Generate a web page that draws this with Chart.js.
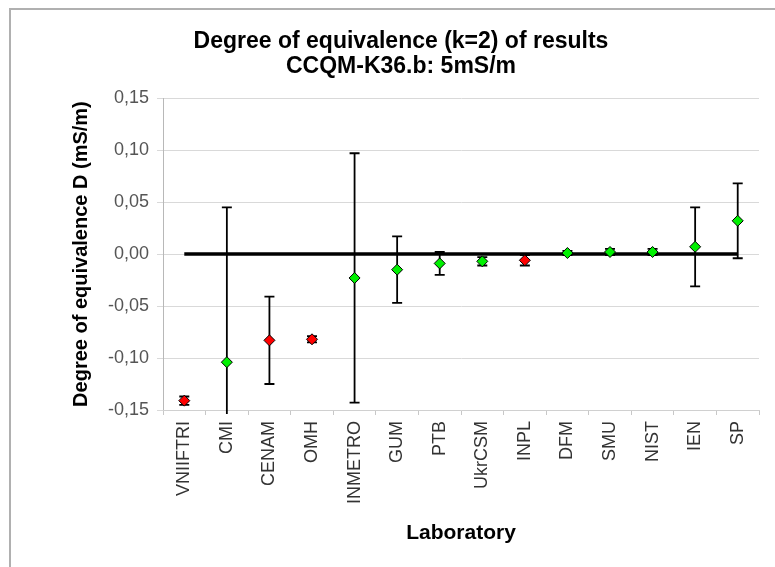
<!DOCTYPE html>
<html>
<head>
<meta charset="utf-8">
<script src="https://cdn.jsdelivr.net/npm/chart.js@4"></script>
<style>
  html, body { margin: 0; padding: 0; background: #fff; }
  #wrap { width: 775px; height: 567px; position: relative; }
</style>
</head>
<body>
<div id="wrap"><canvas id="myChart"></canvas></div>
<script>
const labs = ['VNIIFTRI', 'CMI', 'CENAM', 'OMH', 'INMETRO', 'GUM', 'PTB', 'UkrCSM', 'INPL', 'DFM', 'SMU', 'NIST', 'IEN', 'SP'];
const degEq = [-0.141, -0.104, -0.083, -0.082, -0.023, -0.015, -0.009, -0.007, -0.006, 0.001, 0.002, 0.002, 0.007, 0.032];
const expU = [0.004, 0.149, 0.042, 0.003, 0.120, 0.032, 0.011, 0.004, 0.005, 0.002, 0.003, 0.003, 0.038, 0.036];
// 1 = consistent (green), 0 = not consistent (red)
const consistent = [0, 1, 0, 0, 1, 1, 1, 1, 0, 1, 1, 1, 1, 1];
const yTicks = [-0.15, -0.10, -0.05, 0.00, 0.05, 0.10, 0.15];

const fmt = v => v.toFixed(2).replace('.', ',');

// error bars, drawn under the points
const errorBars = {
  id: 'errorBars',
  beforeDatasetsDraw(chart) {
    const ctx = chart.ctx;
    const y = chart.scales.y;
    const area = chart.chartArea;
    const meta = chart.getDatasetMeta(0);
    ctx.save();
    ctx.beginPath();
    ctx.rect(area.left, area.top - 4, area.right - area.left, area.bottom - area.top + 8);
    ctx.clip();
    ctx.strokeStyle = '#000';
    ctx.lineWidth = 1.8;
    meta.data.forEach((pt, i) => {
      const x = pt.x;
      const yTop = y.getPixelForValue(degEq[i] + expU[i]);
      const yBot = y.getPixelForValue(degEq[i] - expU[i]);
      ctx.beginPath();
      ctx.moveTo(x, yTop); ctx.lineTo(x, yBot);
      ctx.moveTo(x - 5, yTop); ctx.lineTo(x + 5, yTop);
      ctx.moveTo(x - 5, yBot); ctx.lineTo(x + 5, yBot);
      ctx.stroke();
    });
    ctx.restore();
  }
};

// grey frame of the original picture
const frame = {
  id: 'frame',
  beforeDraw(chart) {
    const ctx = chart.ctx;
    ctx.save();
    ctx.strokeStyle = '#b0b0b0';
    ctx.lineWidth = 2;
    ctx.strokeRect(10, 9, 820, 600);
    ctx.restore();
  }
};

const data = {
  labels: labs,
  datasets: [
    {
      label: 'D',
      data: degEq,
      showLine: false,
      pointStyle: 'rectRot',
      pointRadius: 5.5,
      pointBorderWidth: 1,
      pointBorderColor: '#000',
      pointBackgroundColor: consistent.map(c => c ? '#00f000' : '#ff0000'),
      order: 0
    },
    {
      label: 'zero',
      data: labs.map(() => 0),
      borderColor: '#000',
      borderWidth: 3.5,
      pointRadius: 0,
      order: 1
    }
  ]
};

const config = {
  type: 'line',
  data,
  options: {
    responsive: true,
    maintainAspectRatio: false,
    animation: false,
    layout: { padding: { left: 43, right: 16, top: 0, bottom: 0 } },
    plugins: {
      legend: { display: false },
      tooltip: { enabled: false },
      title: {
        display: true,
        text: ['Degree of equivalence (k=2) of results', 'CCQM-K36.b: 5mS/m'],
        color: '#000',
        font: { family: 'Liberation Sans', size: 23, weight: 'bold', lineHeight: 1.09 },
        padding: { top: 29, bottom: 19 }
      }
    },
    scales: {
      y: {
        min: -0.15,
        max: 0.15,
        afterBuildTicks: s => { s.ticks = yTicks.map(v => ({ value: v })); },
        afterFit: s => { s.width = 120; },
        ticks: {
          callback: v => fmt(v),
          color: '#555',
          padding: 8,
          font: { family: 'Liberation Sans', size: 18 }
        },
        grid: { color: '#d9d9d9', lineWidth: 1, tickLength: 6 },
        border: { color: '#b8b8b8' },
        title: {
          display: true,
          text: 'Degree of equivalence D (mS/m)',
          color: '#000',
          font: { family: 'Liberation Sans', size: 20, weight: 'bold' },
          padding: { top: 26, bottom: 0 }
        }
      },
      x: {
        offset: true,
        afterFit: s => { s.height = 157; },
        ticks: {
          minRotation: 90,
          maxRotation: 90,
          autoSkip: false,
          color: '#333',
          padding: 6,
          font: { family: 'Liberation Sans', size: 18 }
        },
        grid: { offset: true, drawOnChartArea: false, color: '#c8c8c8', tickLength: 5 },
        border: { color: '#d0d0d0' },
        title: {
          display: true,
          text: 'Laboratory',
          color: '#000',
          font: { family: 'Liberation Sans', size: 21, weight: 'bold' },
          padding: { top: 0, bottom: 21 }
        }
      }
    }
  },
  plugins: [frame, errorBars]
};

const myChart = new Chart(document.getElementById('myChart'), config);
</script>
</body>
</html>
